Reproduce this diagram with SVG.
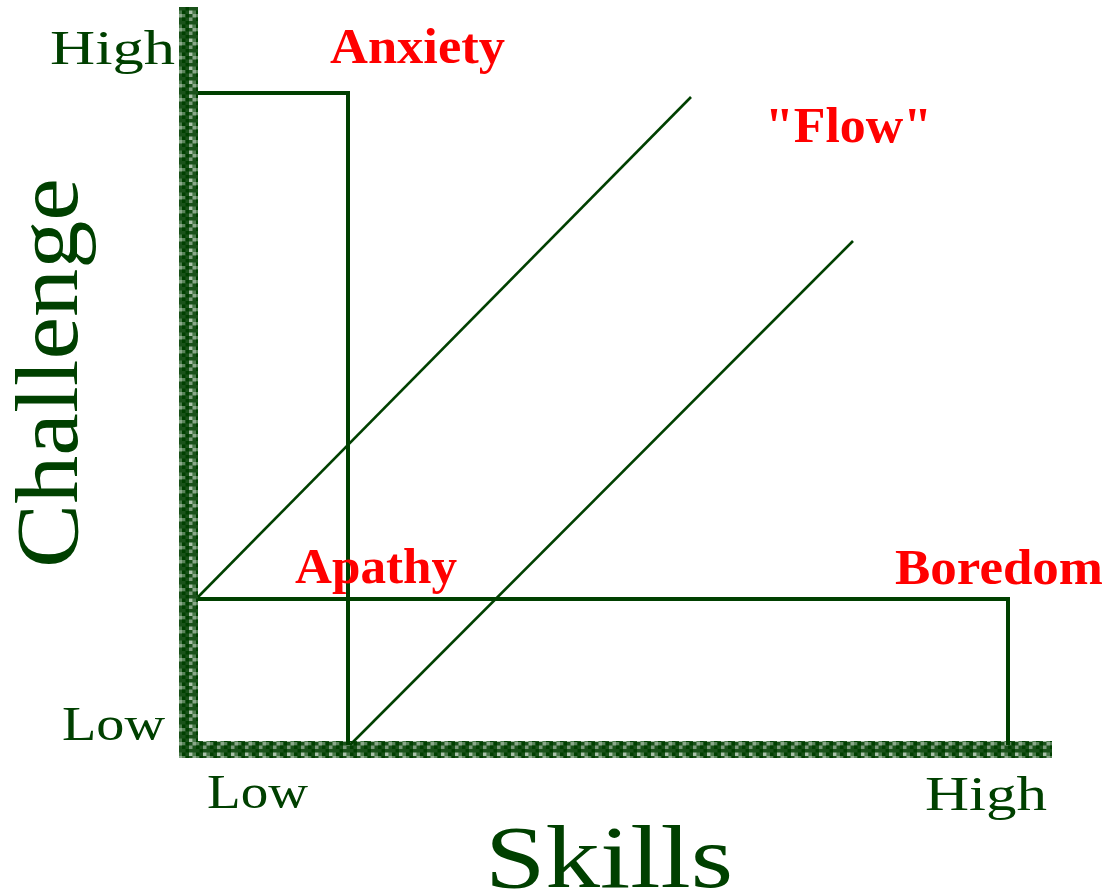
<svg xmlns="http://www.w3.org/2000/svg" width="1107" height="894" viewBox="0 0 1107 894">
<style>
.g{fill:#004000;font-family:"Liberation Serif","Times New Roman",serif}
.r{fill:#ff0000;font-family:"Liberation Serif","Times New Roman",serif;font-weight:bold;font-size:51px}
.ln{stroke:#004000;stroke-width:4;fill:none}
.dg{stroke:#004000;stroke-width:2.6;fill:none}
</style>
<defs>
<pattern id="tex" width="14" height="14" patternUnits="userSpaceOnUse">
<rect width="14" height="14" fill="#1a521a"/>
<rect x="0" y="0" width="3.5" height="3.5" fill="#5a845a"/>
<rect x="7" y="3.5" width="3.5" height="3.5" fill="#7c9c7c"/>
<rect x="3.5" y="7" width="3.5" height="3.5" fill="#004000"/>
<rect x="10.5" y="10.5" width="3.5" height="3.5" fill="#4a7a4a"/>
<rect x="3.5" y="0" width="3.5" height="3.5" fill="#004000"/>
<rect x="10.5" y="0" width="3.5" height="3.5" fill="#8aa88a"/>
<rect x="0" y="10.5" width="3.5" height="3.5" fill="#004000"/>
<rect x="7" y="10.5" width="3.5" height="3.5" fill="#a8c0a8"/>
<rect x="0" y="3.5" width="3.5" height="3.5" fill="#004000"/>
</pattern>
</defs>
<rect width="1107" height="894" fill="#ffffff"/>
<g id="axes">
<rect x="179" y="7" width="19" height="750" fill="url(#tex)"/>
<rect x="179" y="741" width="873" height="17" fill="url(#tex)"/>
</g>
<g id="connectors">
<polyline class="ln" points="198,93 348,93 348,745"/>
<polyline class="ln" points="198,599 1008,599 1008,745"/>
<line class="dg" x1="198" y1="597" x2="691" y2="97"/>
<line class="dg" x1="350" y1="745" x2="853" y2="241"/>
</g>
<g id="axis-labels">
<text class="g" x="50" y="64" font-size="48" textLength="125" lengthAdjust="spacingAndGlyphs">High</text>
<text class="g" x="62" y="740" font-size="48" textLength="103" lengthAdjust="spacingAndGlyphs">Low</text>
<text class="g" x="207" y="808" font-size="48" textLength="101" lengthAdjust="spacingAndGlyphs">Low</text>
<text class="g" x="925" y="810" font-size="48" textLength="122" lengthAdjust="spacingAndGlyphs">High</text>
<text class="g" x="485" y="887" font-size="88" textLength="248" lengthAdjust="spacingAndGlyphs">Skills</text>
<text class="g" transform="translate(77,568) rotate(-90)" font-size="88" textLength="390" lengthAdjust="spacingAndGlyphs">Challenge</text>
</g>
<g id="anxiety"><text class="r" x="330" y="63" textLength="175" lengthAdjust="spacingAndGlyphs">Anxiety</text></g>
<g id="flow"><text class="r" x="765" y="142" textLength="167" lengthAdjust="spacingAndGlyphs">"Flow"</text></g>
<g id="apathy"><text class="r" x="295" y="583" textLength="162" lengthAdjust="spacingAndGlyphs">Apathy</text></g>
<g id="boredom"><text class="r" x="895" y="584" textLength="208" lengthAdjust="spacingAndGlyphs">Boredom</text></g>
</svg>
